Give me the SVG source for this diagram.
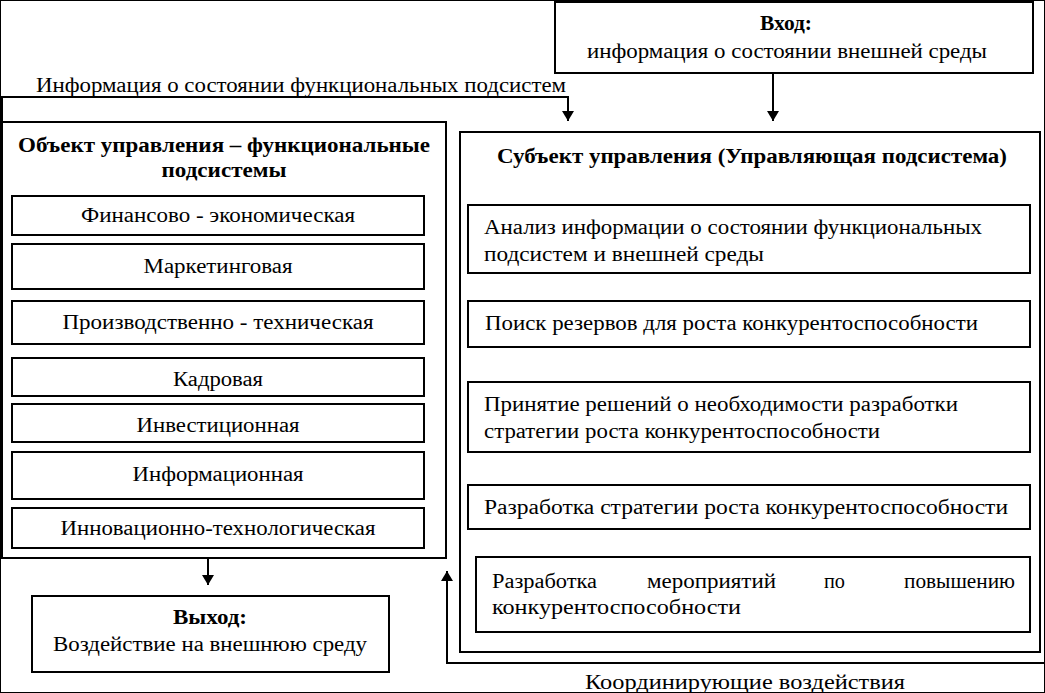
<svg xmlns="http://www.w3.org/2000/svg" width="1045" height="693" viewBox="0 0 1045 693">
<defs>
<marker id="ah" markerWidth="10" markerHeight="12" refX="10" refY="6" orient="auto" markerUnits="userSpaceOnUse">
<path d="M0,0 L10,6 L0,12 Z" fill="#000"/>
</marker>
<style>
text{font-family:"Liberation Serif","Times New Roman",Tinos,"DejaVu Serif","Noto Serif",FreeSerif,serif;font-size:20px;fill:#000}
.b{font-weight:bold}
.m{text-anchor:middle}
rect{fill:#fff;stroke:#000;stroke-width:2}
.c{fill:none;stroke:#000;stroke-width:2}
</style>
</defs>
<rect width="1045" height="693" fill="#fff" stroke="none"/>

<g id="connectors">
<path class="c" d="M2,122 L2,97 L568,97 L568,121" marker-end="url(#ah)"/>
<path class="c" d="M773,73 L773,121" marker-end="url(#ah)"/>
<path class="c" d="M208,558 L208,585" marker-end="url(#ah)"/>
<path class="c" d="M1045,663 L447,663 L447,571" marker-end="url(#ah)"/>
<path class="c" d="M773,270 L773,290" marker-end="url(#ah)"/>
<path class="c" d="M773,347 L773,372" marker-end="url(#ah)"/>
<path class="c" d="M773,452 L773,475" marker-end="url(#ah)"/>
<path class="c" d="M773,529 L773,546" marker-end="url(#ah)"/>
</g>

<g id="input">
<rect x="555" y="2" width="478" height="71"/>
<text class="b m" x="786" y="30" textLength="52" lengthAdjust="spacingAndGlyphs">Вход:</text>
<text class="m" x="787" y="58" textLength="400" lengthAdjust="spacingAndGlyphs">информация о состоянии внешней среды</text>
</g>

<g id="label-info">
<text x="36" y="92" textLength="530" lengthAdjust="spacingAndGlyphs">Информация о состоянии функциональных подсистем</text>
</g>

<g id="object">
<rect x="2" y="122" width="444" height="436"/>
<text class="b m" x="224" y="152" textLength="412" lengthAdjust="spacingAndGlyphs">Объект управления – функциональные</text>
<text class="b m" x="224" y="177" textLength="125" lengthAdjust="spacingAndGlyphs">подсистемы</text>
</g>
<g id="obj1"><rect x="12" y="196" width="412" height="39"/><text class="m" x="218" y="222" textLength="274" lengthAdjust="spacingAndGlyphs">Финансово - экономическая</text></g>
<g id="obj2"><rect x="12" y="244" width="412" height="45"/><text class="m" x="218" y="273" textLength="149" lengthAdjust="spacingAndGlyphs">Маркетинговая</text></g>
<g id="obj3"><rect x="12" y="301" width="412" height="43"/><text class="m" x="218" y="329" textLength="311" lengthAdjust="spacingAndGlyphs">Производственно - техническая</text></g>
<g id="obj4"><rect x="12" y="358" width="412" height="38"/><text class="m" x="218" y="386" textLength="90" lengthAdjust="spacingAndGlyphs">Кадровая</text></g>
<g id="obj5"><rect x="12" y="404" width="412" height="38"/><text class="m" x="218" y="432" textLength="163" lengthAdjust="spacingAndGlyphs">Инвестиционная</text></g>
<g id="obj6"><rect x="12" y="452" width="412" height="47"/><text class="m" x="218" y="481" textLength="171" lengthAdjust="spacingAndGlyphs">Информационная</text></g>
<g id="obj7"><rect x="12" y="508" width="412" height="40"/><text class="m" x="218" y="535" textLength="315" lengthAdjust="spacingAndGlyphs">Инновационно-технологическая</text></g>

<g id="output">
<rect x="32" y="596" width="357" height="76"/>
<text class="b m" x="210" y="624" textLength="74" lengthAdjust="spacingAndGlyphs">Выход:</text>
<text class="m" x="210" y="651" textLength="314" lengthAdjust="spacingAndGlyphs">Воздействие на внешнюю среду</text>
</g>

<g id="subject">
<rect x="460" y="132" width="580" height="520"/>
<text class="b m" x="752" y="163" textLength="510" lengthAdjust="spacingAndGlyphs">Субъект управления (Управляющая подсистема)</text>
</g>
<g id="sub1"><rect x="468" y="205" width="562" height="68"/>
<text x="484" y="234" textLength="498" lengthAdjust="spacingAndGlyphs">Анализ информации о состоянии функциональных</text>
<text x="484" y="261" textLength="280" lengthAdjust="spacingAndGlyphs">подсистем и внешней среды</text></g>
<g id="sub2"><rect x="468" y="301" width="562" height="46"/>
<text x="485" y="330" textLength="493" lengthAdjust="spacingAndGlyphs">Поиск резервов для роста конкурентоспособности</text></g>
<g id="sub3"><rect x="468" y="382" width="562" height="70"/>
<text x="484" y="411" textLength="474" lengthAdjust="spacingAndGlyphs">Принятие решений о необходимости разработки</text>
<text x="484" y="438" textLength="396" lengthAdjust="spacingAndGlyphs">стратегии роста конкурентоспособности</text></g>
<g id="sub4"><rect x="468" y="485" width="562" height="44"/>
<text x="484" y="514" textLength="524" lengthAdjust="spacingAndGlyphs">Разработка стратегии роста конкурентоспособности</text></g>
<g id="sub5"><rect x="476" y="557" width="554" height="75"/>
<text x="492" y="588" textLength="105" lengthAdjust="spacingAndGlyphs">Разработка</text>
<text x="647" y="588" textLength="129" lengthAdjust="spacingAndGlyphs">мероприятий</text>
<text x="824" y="588" textLength="21" lengthAdjust="spacingAndGlyphs">по</text>
<text x="904" y="588" textLength="111" lengthAdjust="spacingAndGlyphs">повышению</text>
<text x="492" y="614" textLength="249" lengthAdjust="spacingAndGlyphs">конкурентоспособности</text></g>

<g id="label-coord">
<text class="m" x="745" y="689" textLength="320" lengthAdjust="spacingAndGlyphs">Координирующие воздействия</text>
</g>
</svg>
